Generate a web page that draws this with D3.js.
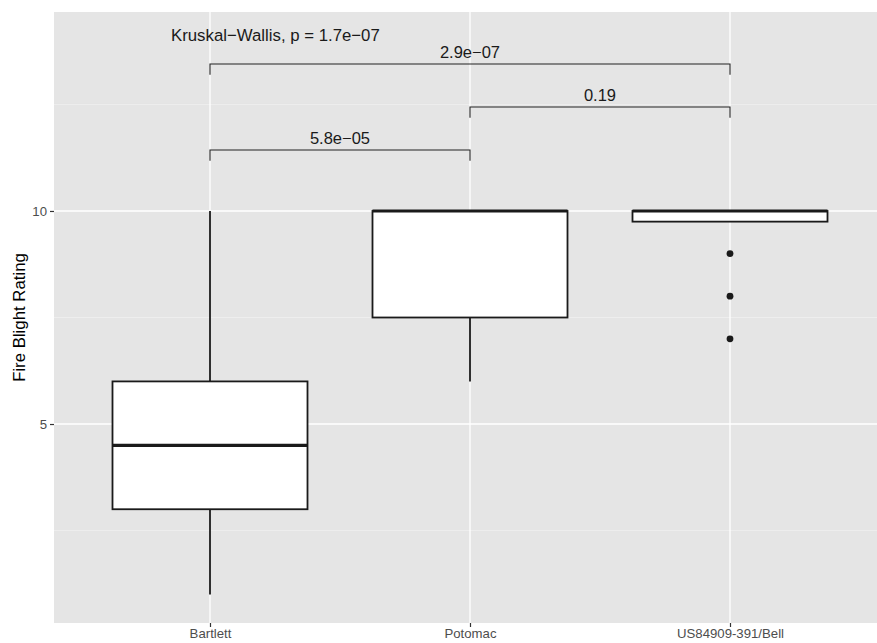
<!DOCTYPE html>
<html>
<head>
<meta charset="utf-8">
<script src="https://cdn.jsdelivr.net/npm/d3@7"></script>
<style>
  body { margin: 0; background: #fff; }
  text { font-family: "Liberation Sans", Arial, sans-serif; }
</style>
</head>
<body>
<svg width="877" height="643"></svg>
<script>
// data
const categories = ["Bartlett", "Potomac", "US84909-391/Bell"];
const q1 = [3, 7.5, 9.75];
const medians = [4.5, 10, 10];
const q3 = [6, 10, 10];
const whiskerLow = [1, 6, 9.75];
const whiskerHigh = [10, 10, 10];
const outliers = [[], [], [9, 8, 7]];

const yTicks = [5, 10];
const yMinor = [2.5, 7.5, 12.5];

// pairwise comparisons (group index, 1-based)
const compFrom = [1, 2, 1];
const compTo = [2, 3, 3];
const compLabels = ["5.8e\u221205", "0.19", "2.9e\u221207"];
const compY = [11.43, 12.44, 13.45];
const kwLabel = "Kruskal\u2212Wallis, p = 1.7e\u221207";

const svg = d3.select("svg");
const panel = { left: 54, top: 12, right: 886, bottom: 623 };

const x = d3.scaleLinear().domain([0.4, 3.6]).range([panel.left, panel.right]);
const y = d3.scaleLinear().domain([0.33, 14.67]).range([panel.bottom, panel.top]);

// panel background
svg.append("rect")
  .attr("x", panel.left).attr("y", panel.top)
  .attr("width", panel.right - panel.left)
  .attr("height", panel.bottom - panel.top)
  .attr("fill", "#e5e5e5");

const grid = svg.append("g");
grid.selectAll("line.minor")
  .data(yMinor).enter().append("line")
  .attr("x1", panel.left).attr("x2", panel.right)
  .attr("y1", d => y(d)).attr("y2", d => y(d))
  .attr("stroke", "#f4f4f4").attr("stroke-width", 0.6);
grid.selectAll("line.majorY")
  .data(yTicks).enter().append("line")
  .attr("x1", panel.left).attr("x2", panel.right)
  .attr("y1", d => y(d)).attr("y2", d => y(d))
  .attr("stroke", "#fff").attr("stroke-width", 1.3);
grid.selectAll("line.majorX")
  .data(categories).enter().append("line")
  .attr("x1", (d, i) => x(i + 1)).attr("x2", (d, i) => x(i + 1))
  .attr("y1", panel.top).attr("y2", panel.bottom)
  .attr("stroke", "#fff").attr("stroke-width", 1.3);

// boxplots
const boxW = 0.75;
const boxes = svg.append("g");
categories.forEach((c, i) => {
  const cx = x(i + 1);
  const x0 = x(i + 1 - boxW / 2), x1 = x(i + 1 + boxW / 2);
  // whiskers
  boxes.append("line")
    .attr("x1", cx).attr("x2", cx)
    .attr("y1", y(q3[i])).attr("y2", y(whiskerHigh[i]))
    .attr("stroke", "#1a1a1a").attr("stroke-width", 1.8);
  boxes.append("line")
    .attr("x1", cx).attr("x2", cx)
    .attr("y1", y(q1[i])).attr("y2", y(whiskerLow[i]))
    .attr("stroke", "#1a1a1a").attr("stroke-width", 1.8);
  boxes.append("rect")
    .attr("x", x0).attr("width", x1 - x0)
    .attr("y", y(q3[i])).attr("height", y(q1[i]) - y(q3[i]))
    .attr("fill", "#fff").attr("stroke", "#1a1a1a").attr("stroke-width", 1.8);
  boxes.append("line")
    .attr("x1", x0).attr("x2", x1)
    .attr("y1", y(medians[i])).attr("y2", y(medians[i]))
    .attr("stroke", "#1a1a1a").attr("stroke-width", 3.2);
  boxes.selectAll(null)
    .data(outliers[i]).enter().append("circle")
    .attr("cx", cx).attr("cy", d => y(d))
    .attr("r", 3.4).attr("fill", "#1a1a1a");
});

// comparison brackets
const tip = 0.25;
const comps = svg.append("g");
compLabels.forEach((lab, i) => {
  const xa = x(compFrom[i]), xb = x(compTo[i]);
  comps.append("path")
    .attr("d", `M${xa},${y(compY[i] - tip)}V${y(compY[i])}H${xb}V${y(compY[i] - tip)}`)
    .attr("fill", "none").attr("stroke", "#222").attr("stroke-width", 1.1);
  comps.append("text")
    .attr("x", (xa + xb) / 2).attr("y", y(compY[i]) - 6)
    .attr("text-anchor", "middle")
    .style("font-size", "16.5px").attr("fill", "#1a1a1a")
    .text(lab);
});
svg.append("text")
  .attr("x", x(0.85)).attr("y", y(14.0))
  .style("font-size", "16.8px").attr("fill", "#1a1a1a")
  .text(kwLabel);

// axes
const yAxis = svg.append("g")
  .attr("transform", `translate(${panel.left},0)`)
  .call(d3.axisLeft(y).tickValues(yTicks).tickSize(4).tickPadding(3));
yAxis.select(".domain").remove();
yAxis.selectAll("line").attr("stroke", "#333").attr("stroke-width", 1.2);
yAxis.selectAll("text").attr("fill", "#4d4d4d").style("font-size", "13.2px")
  .style("font-family", "Liberation Sans, Arial, sans-serif");

const xAxis = svg.append("g")
  .attr("transform", `translate(0,${panel.bottom})`)
  .call(d3.axisBottom(x).tickValues([1, 2, 3]).tickFormat(d => categories[d - 1]).tickSize(4).tickPadding(2));
xAxis.select(".domain").remove();
xAxis.selectAll("line").attr("stroke", "#333").attr("stroke-width", 1.2);
xAxis.selectAll("text").attr("fill", "#4d4d4d").style("font-size", "13.2px")
  .style("font-family", "Liberation Sans, Arial, sans-serif");

svg.append("text")
  .attr("transform", `translate(25,${(panel.top + panel.bottom) / 2}) rotate(-90)`)
  .attr("text-anchor", "middle")
  .style("font-size", "16.8px").attr("fill", "#000")
  .text("Fire Blight Rating");
</script>
</body>
</html>
